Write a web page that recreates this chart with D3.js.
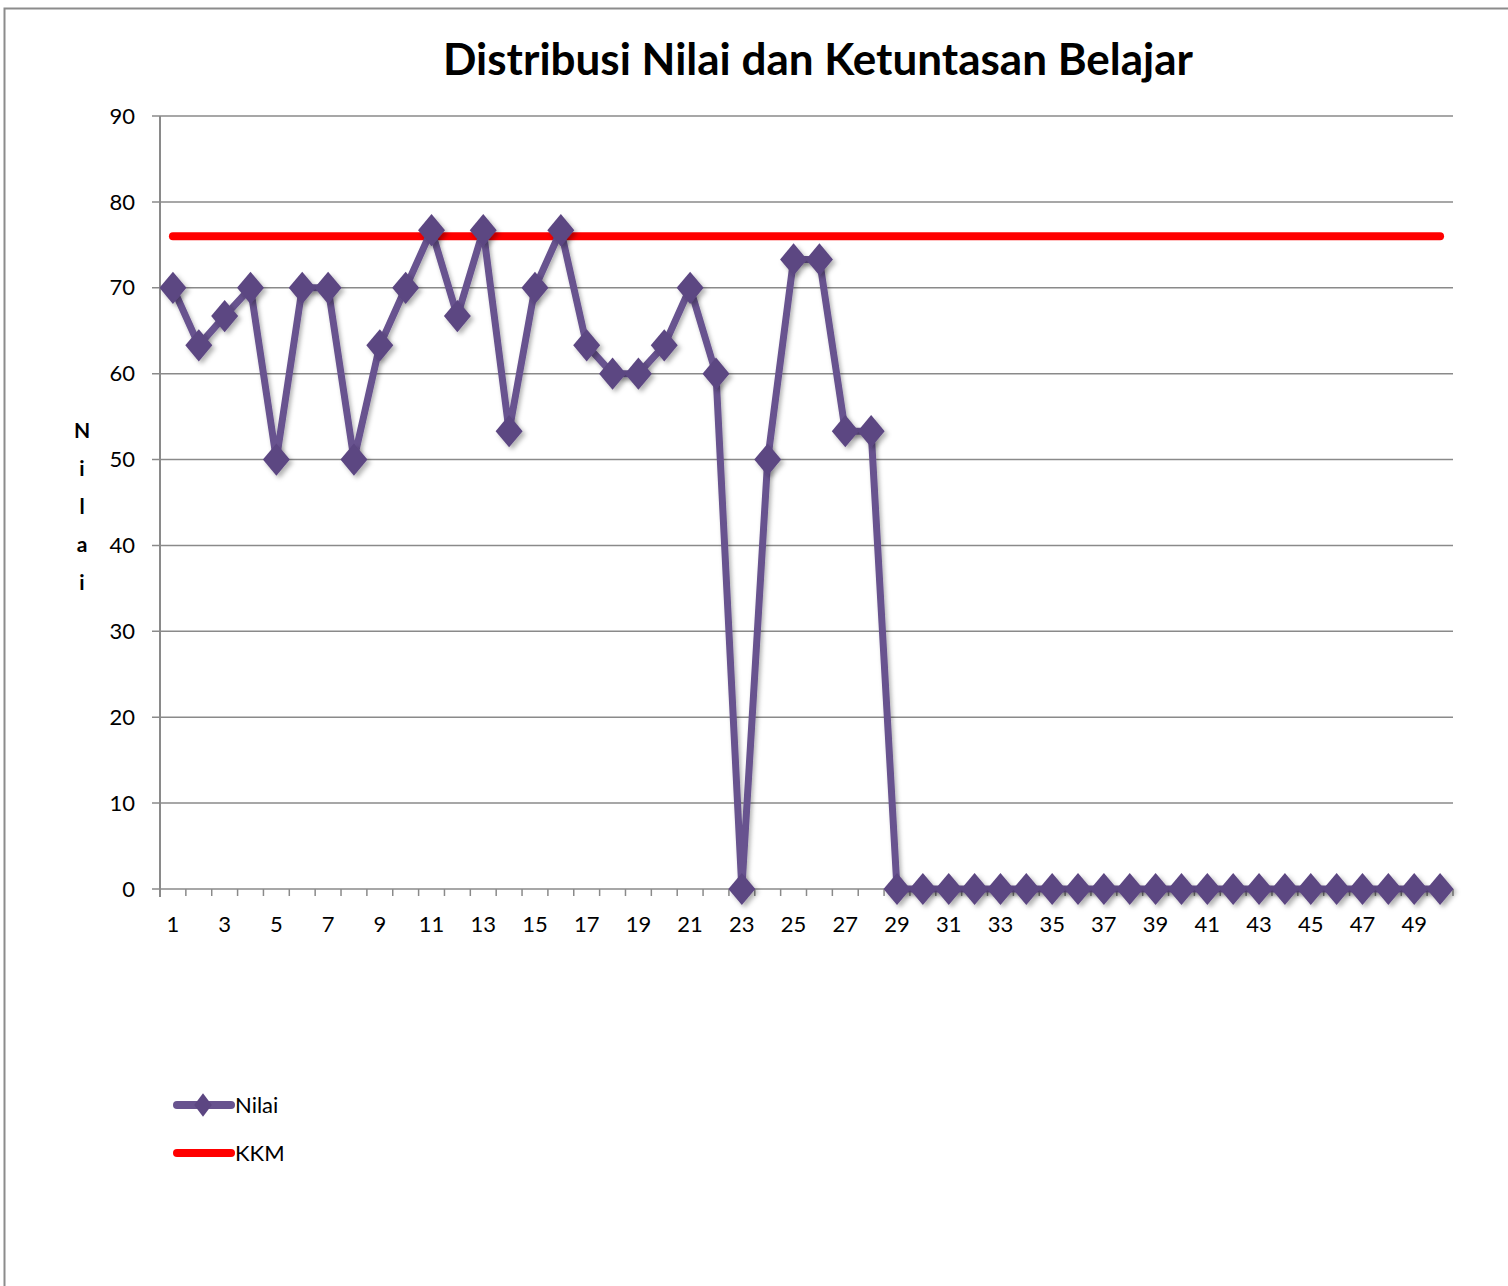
<!DOCTYPE html>
<html><head><meta charset="utf-8">
<script src="https://cdn.jsdelivr.net/npm/d3@7"></script>
<style>body{margin:0;background:#fff;} svg{display:block;font-family:Lato,"Open Sans",sans-serif;}</style>
</head><body>
<svg id="c" width="1508" height="1286"></svg>
<script>
const categories = d3.range(1, 51);
const nilai = [70,63.3,66.7,70,50,70,70,50,63.3,70,76.7,66.7,76.7,53.3,70,76.7,63.3,60,60,63.3,70,60,0,50,73.3,73.3,53.3,53.3,
  0,0,0,0,0,0,0,0,0,0,0,0,0,0,0,0,0,0,0,0,0,0];
const kkm = categories.map(() => 76);
const yTicks = [0,10,20,30,40,50,60,70,80,90];
const xTickLabels = categories.filter(d => d % 2 === 1);

const svg = d3.select("#c");
const purple = "#68538f", markerCol = "#5c4682", red = "#ff0000";

// outer border
svg.append("rect").attr("x",4.5).attr("y",8.5).attr("width",1520).attr("height",1300)
  .attr("fill","none").attr("stroke","#8c8c8c").attr("stroke-width",2);

const L = 160, R = 1453, T = 116, B = 889;
const x = d3.scaleBand().domain(categories).range([L, R]).padding(0);
const y = d3.scaleLinear().domain([0, 90]).range([B, T]);
const cx = d => x(d) + x.bandwidth()/2;

// gridlines
svg.append("g").selectAll("line").data(yTicks).join("line")
  .attr("x1", L-8).attr("x2", R).attr("y1", d=>y(d)).attr("y2", d=>y(d))
  .attr("stroke", "#8a8a8a").attr("stroke-width", 1.5);
// y axis line
svg.append("line").attr("x1",L).attr("x2",L).attr("y1",T).attr("y2",B+8).attr("stroke","#8a8a8a").attr("stroke-width",2);
// y labels
svg.append("g").selectAll("text").data(yTicks).join("text")
  .attr("x", 135).attr("y", d=>y(d)).attr("dy","0.35em").attr("text-anchor","end")
  .attr("font-size",22).attr("fill","#000").text(d=>d);
// x ticks
const bounds = categories.map(d => x(d)).concat([R]);
svg.append("g").selectAll("line").data(bounds).join("line")
  .attr("x1", d=>d).attr("x2", d=>d).attr("y1", B).attr("y2", B+7)
  .attr("stroke","#8a8a8a").attr("stroke-width",1.5);
svg.append("g").selectAll("text").data(xTickLabels).join("text")
  .attr("x", d=>cx(d)).attr("y", 932).attr("text-anchor","middle")
  .attr("font-size",22).attr("fill","#000").text(d=>d);

// y title vertical stacked letters
const yTitle = "Nilai".split("");
svg.append("g").selectAll("text").data(yTitle).join("text")
  .attr("x", 82).attr("y", (d,i)=>438 + i*38).attr("text-anchor","middle")
  .attr("font-size",21).attr("font-weight","bold").attr("fill","#000").text(d=>d);

// title
svg.append("text").attr("x", 818).attr("y", 75).attr("text-anchor","middle")
  .attr("font-size",44).attr("font-weight","bold").attr("fill","#000")
  .text("Distribusi Nilai dan Ketuntasan Belajar");

// KKM line
svg.append("path").datum(categories)
  .attr("d", d3.line().x(d=>cx(d)).y((d,i)=>y(kkm[i])))
  .attr("fill","none").attr("stroke",red).attr("stroke-width",8).attr("stroke-linecap","round");

// shadow filter
const defs = svg.append("defs");
const f = defs.append("filter").attr("id","sh").attr("x","-50%").attr("y","-50%").attr("width","200%").attr("height","200%");
f.append("feDropShadow").attr("dx",2).attr("dy",3).attr("stdDeviation",2).attr("flood-color","#000").attr("flood-opacity",0.3);

// Nilai line
svg.append("path").datum(nilai)
  .attr("d", d3.line().x((d,i)=>cx(categories[i])).y(d=>y(d)))
  .attr("fill","none").attr("stroke",purple).attr("stroke-width",7).attr("stroke-linejoin","round").attr("filter","url(#sh)");
// markers
const sym = d3.symbol().type(d3.symbolDiamond).size(300);
svg.append("g").selectAll("path").data(nilai).join("path")
  .attr("d", sym)
  .attr("transform",(d,i)=>`translate(${cx(categories[i])},${y(d)}) scale(1.45,1)`)
  .attr("fill",markerCol).attr("filter","url(#sh)");

// legend
const lg = svg.append("g");
lg.append("line").attr("x1",177).attr("x2",231).attr("y1",1105).attr("y2",1105)
  .attr("stroke",purple).attr("stroke-width",8).attr("stroke-linecap","round");
lg.append("path").attr("d", d3.symbol().type(d3.symbolDiamond).size(160))
  .attr("transform","translate(203,1105) scale(1.3,1)").attr("fill",markerCol);
lg.append("text").attr("x",235).attr("y",1105).attr("dy","0.35em").attr("font-size",22).text("Nilai");
lg.append("line").attr("x1",177).attr("x2",231).attr("y1",1153).attr("y2",1153)
  .attr("stroke",red).attr("stroke-width",8).attr("stroke-linecap","round");
lg.append("text").attr("x",235).attr("y",1153).attr("dy","0.35em").attr("font-size",22).text("KKM");
</script>
</body></html>
